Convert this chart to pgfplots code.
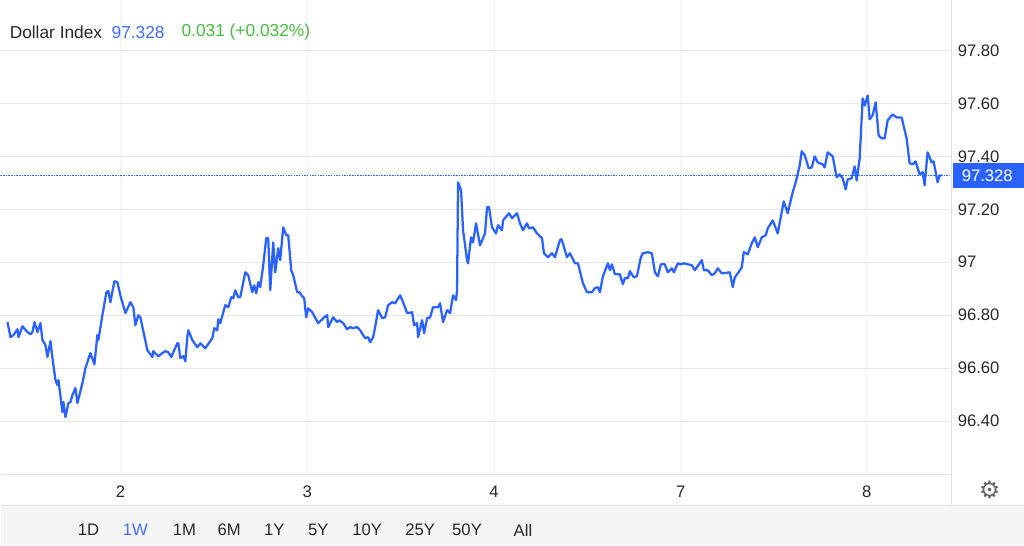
\documentclass[border=0pt]{standalone}
\usepackage{pgfplots}
\pgfplotsset{compat=1.18}
\usepackage{fontspec}
\setmainfont{Liberation Sans}
\newfontfamily\dejavu{DejaVu Sans}
\definecolor{lineblue}{RGB}{41,98,255}
\definecolor{titleblue}{RGB}{66,110,255}
\definecolor{upgreen}{RGB}{64,190,60}
\definecolor{txt}{RGB}{40,40,40}
\definecolor{hgrid}{RGB}{230,230,230}
\definecolor{vgrid}{RGB}{238,242,249}
\definecolor{barbg}{RGB}{245,245,245}
\definecolor{sep}{RGB}{225,225,225}
\pgfplotstableread{
x y
7 96.774
10 96.717
13 96.725
17 96.747
18 96.717
22 96.758
27 96.736
30 96.728
32 96.736
34 96.774
37 96.736
40 96.770
42 96.706
45 96.687
47 96.642
50 96.702
52 96.638
55 96.555
57 96.536
58 96.555
62 96.434
63 96.472
65 96.415
68 96.468
70 96.472
72 96.498
75 96.525
77 96.468
82 96.543
85 96.600
90 96.657
94 96.615
97 96.725
98 96.706
102 96.800
106 96.887
108 96.891
110 96.849
114 96.928
117 96.925
120 96.875
125 96.808
130 96.849
133 96.830
135 96.762
138 96.800
140 96.792
147 96.668
152 96.642
153 96.664
158 96.645
162 96.657
165 96.664
168 96.660
171 96.642
173 96.660
177 96.694
178 96.694
180 96.638
183 96.645
185 96.626
187 96.717
188 96.743
192 96.706
197 96.679
200 96.694
205 96.675
212 96.713
214 96.751
217 96.743
218 96.785
220 96.770
225 96.838
228 96.830
231 96.868
233 96.864
235 96.894
238 96.868
240 96.868
245 96.962
248 96.951
252 96.887
254 96.913
256 96.883
258 96.925
260 96.906
263 96.989
266 97.091
268 97.091
270 96.894
273 97.075
275 96.962
278 97.053
280 97.008
283 97.132
286 97.102
288 97.102
291 96.970
293 96.951
297 96.887
299 96.887
302 96.872
304 96.864
306 96.792
308 96.826
312 96.811
318 96.770
324 96.792
327 96.800
328 96.755
333 96.792
337 96.774
339 96.781
343 96.770
347 96.747
350 96.755
353 96.751
357 96.755
360 96.743
365 96.713
368 96.717
370 96.698
373 96.717
375 96.755
378 96.819
382 96.789
385 96.792
388 96.838
392 96.849
395 96.845
400 96.875
403 96.849
407 96.808
412 96.811
414 96.762
417 96.770
418 96.717
422 96.781
424 96.732
427 96.789
430 96.792
433 96.830
438 96.830
440 96.845
443 96.774
447 96.819
450 96.808
453 96.875
456 96.857
457 96.894
458 97.302
461 97.272
463 97.121
467 97.008
468 96.996
471 97.094
473 97.075
476 97.147
480 97.064
485 97.109
487 97.208
489 97.208
492 97.132
496 97.109
498 97.140
502 97.121
503 97.158
509 97.185
512 97.166
517 97.185
520 97.147
523 97.121
527 97.147
529 97.128
533 97.132
537 97.109
542 97.091
544 97.034
548 97.019
552 97.034
555 97.019
557 97.045
560 97.083
561 97.087
562 97.083
567 97.019
570 97.034
575 96.996
578 96.996
583 96.921
587 96.887
592 96.887
595 96.902
598 96.906
600 96.887
603 96.947
608 96.996
610 96.970
612 96.992
615 96.955
620 96.955
623 96.917
625 96.940
628 96.940
630 96.966
634 96.943
637 96.947
641 97.019
643 97.034
648 97.038
652 97.034
655 96.962
658 96.947
661 96.992
665 96.992
668 96.962
672 96.977
674 96.962
678 96.996
681 96.992
684 96.996
688 96.992
692 96.989
695 96.970
702 97.008
704 96.970
708 96.970
712 96.951
715 96.958
718 96.977
722 96.958
730 96.962
733 96.906
735 96.943
738 96.958
742 96.981
744 97.038
748 97.030
752 97.072
755 97.094
758 97.057
762 97.094
766 97.102
768 97.128
773 97.158
778 97.109
784 97.230
788 97.185
791 97.234
793 97.264
797 97.317
800 97.366
802 97.419
805 97.404
809 97.355
812 97.358
815 97.400
818 97.377
823 97.370
825 97.358
828 97.415
833 97.400
837 97.321
840 97.332
843 97.317
846 97.275
848 97.313
852 97.317
855 97.362
857 97.309
860 97.392
863 97.619
865 97.592
868 97.630
870 97.540
873 97.555
876 97.604
879 97.479
882 97.468
885 97.468
888 97.536
893 97.558
897 97.547
902 97.547
907 97.468
910 97.374
913 97.370
916 97.381
920 97.332
923 97.340
925 97.291
928 97.415
932 97.377
934 97.381
938 97.302
940 97.328
942 97.328
}\dxy
\begin{document}
\begin{tikzpicture}[x=1pt,y=1pt]
\fill[white] (0,0) rectangle (768,-409.5);
\fill[barbg] (0,-378.75) rectangle (768,-409.5);
\draw[sep,line width=0.75pt] (0,-378.75) -- (768,-378.75);
\begin{axis}[
  at={(0,0)}, anchor=north west,
  scale only axis, width=712.5pt, height=355.5pt,
  xmin=0, xmax=950, ymin=96.2, ymax=97.98868,
  axis line style={draw=none},
  major tick length=0pt,
  xtick={120,307,494,681,867},
  xticklabels={2,3,4,7,8},
  ytick={96.4,96.6,96.8,97,97.2,97.4,97.6,97.8},
  yticklabels={96.40,96.60,96.80,97,97.20,97.40,97.60,97.80},
  yticklabel pos=right,
  xmajorgrids, ymajorgrids,
  x grid style={vgrid,line width=0.75pt},
  y grid style={hgrid,line width=0.75pt},
  xticklabel style={anchor=center, yshift=-13.5pt, font=\fontsize{12.5}{14}\selectfont, text=txt},
  yticklabel style={anchor=west, xshift=6pt, inner sep=0pt, font=\fontsize{12.5}{14}\selectfont, text=txt},
]
\addplot[lineblue, line width=0.75pt, dash pattern=on 1.2pt off 0.8pt] coordinates {(0,97.328) (950,97.328)};
\addplot[lineblue, line width=1.7pt, line join=round, no marks] table[x=x,y=y] {\dxy};
\end{axis}
\draw[sep,line width=0.75pt] (0,-355.5) -- (714,-355.5);
\draw[sep,line width=0.75pt] (713.6,0) -- (713.6,-378.75);
\node[anchor=west, inner sep=0pt, text=txt, font=\fontsize{13}{15}\selectfont] at (6.75,-24) {Dollar Index};
\node[anchor=west, inner sep=0pt, text=titleblue, font=\fontsize{13}{15}\selectfont] at (83.25,-24) {97.328};
\node[anchor=west, inner sep=0pt, text=upgreen, font=\fontsize{13}{15}\selectfont] at (135.75,-24) {0.031 (+0.032\%)};
\fill[lineblue] (714.75,-122.25) rectangle (768,-141);
\node[anchor=west, inner sep=0pt, text=white, font=\fontsize{12.5}{14}\selectfont] at (721.5,-131.6) {97.328};
\node[text=black!60, font=\dejavu\fontsize{18}{20}\selectfont] at (742.5,-367.5) {⚙};
\foreach \t/\c in {1D/88,1M/184,6M/229,1Y/274,5Y/318,10Y/367,25Y/420,50Y/467,All/523}{
  \node[text=txt, font=\fontsize{12.5}{14}\selectfont] at (\c*0.75,-397.5) {\t};
}
\node[text=titleblue, font=\fontsize{12.5}{14}\selectfont] at (101.25,-397.5) {1W};
\end{tikzpicture}
\end{document}
